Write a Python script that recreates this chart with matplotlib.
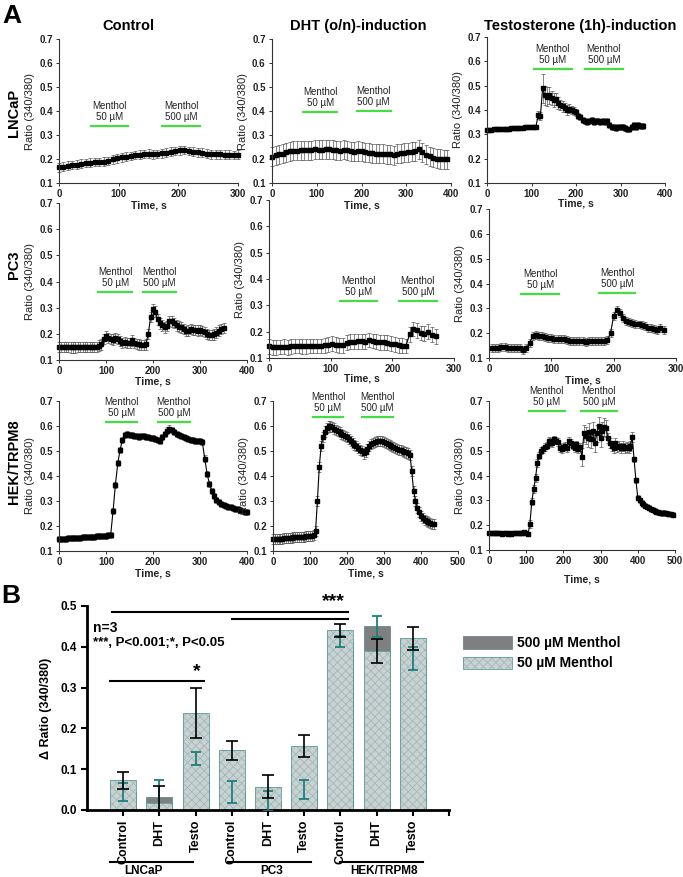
import numpy as np
import matplotlib
matplotlib.use('Agg')
import matplotlib.pyplot as plt
from matplotlib.patches import Rectangle

plt.rcParams['font.family'] = ['Liberation Sans', 'DejaVu Sans']
plt.rcParams['hatch.linewidth'] = 0.6

W, H = 683, 877

### panel A traces: start time, step (s), mean ratio, sem
lncap_ctrl_t = (0, 7.5)
lncap_ctrl_mean = [.165, .168, .172, .175, .177, .180, .183, .185, .187, .188, .189, .192, .198, .203,
                   .207, .210, .212, .216, .218, .221, .222, .220, .221, .224, .227, .231, .234, .236,
                   .237, .234, .230, .228, .227, .222, .220, .219, .220, .218, .218, .217, .218]
lncap_ctrl_sem = 0.018

lncap_dht_t = (0, 8)
lncap_dht_mean = [.210, .215, .220, .222, .228, .232, .234, .235, .236, .236, .236, .237, .240, .238,
                  .238, .240, .240, .238, .236, .235, .238, .236, .232, .230, .233, .232, .228, .226,
                  .224, .222, .222, .222, .220, .220, .215, .222, .224, .226, .228, .230, .232, .240,
                  .228, .218, .212, .205, .202, .200, .198, .198]
lncap_dht_sem = 0.04

lncap_testo_t = (0, 5)
lncap_testo_mean = [.318, .318, .319, .320, .320, .321, .321, .322, .322, .323, .323, .324, .325, .326,
                    .326, .327, .328, .329, .330, .330, .331, .332, .332, .380, .375, .490, .460, .455,
                    .460, .450, .440, .445, .430, .420, .415, .410, .400, .405, .400, .395, .390, .375,
                    .370, .360, .355, .350, .355, .360, .350, .355, .355, .350, .355, .350, .355, .340,
                    .330, .330, .325, .330, .330, .330, .325, .320, .320, .330, .340, .330, .340, .335,
                    .335]
lncap_testo_sem = [.006] * 23 + [.015, .015, .060, .040, .040, .035, .030, .028, .025, .025, .022,
                                 .022, .020, .020, .018, .018, .016, .015] + [.012] * 30

pc3_ctrl_t = (0, 5)
pc3_ctrl_mean = [.150, .150, .150, .150, .149, .148, .148, .148, .149, .149, .150, .150, .150, .150,
                 .150, .150, .150, .155, .160, .180, .192, .185, .180, .178, .185, .180, .172, .165,
                 .168, .165, .165, .175, .165, .162, .160, .158, .158, .160, .200, .265, .295, .285,
                 .255, .240, .232, .225, .230, .250, .248, .242, .232, .228, .225, .218, .210, .212,
                 .218, .215, .215, .212, .214, .210, .208, .200, .196, .196, .198, .205, .212, .218,
                 .222]
pc3_ctrl_sem = 0.02

pc3_dht_t = (0, 6)
pc3_dht_mean = [.145, .140, .140, .142, .143, .140, .144, .146, .146, .144, .145, .146, .146, .146,
                .146, .148, .150, .155, .150, .148, .148, .158, .162, .162, .163, .163, .162, .168,
                .165, .162, .160, .160, .158, .155, .152, .148, .147, .146, .190, .210, .205, .195,
                .192, .200, .188, .182]
pc3_dht_sem = 0.028

pc3_testo_t = (5, 5)
pc3_testo_mean = [.142, .142, .142, .143, .143, .142, .142, .142, .140, .140, .132, .140, .160, .188,
                  .192, .190, .188, .185, .182, .180, .178, .178, .178, .175, .172, .170, .170, .170,
                  .170, .168, .166, .168, .170, .170, .170, .170, .170, .172, .200, .270, .295, .280,
                  .260, .250, .245, .240, .238, .235, .232, .228, .222, .220, .215, .212, .220, .212]
pc3_testo_sem = 0.016

hek_ctrl_t = (0, 5)
hek_ctrl_mean = [.150, .150, .149, .150, .151, .151, .152, .153, .153, .154, .155, .155, .156, .157,
                 .158, .158, .159, .160, .160, .161, .162, .163, .165, .260, .365, .450, .505, .545,
                 .562, .570, .566, .562, .560, .560, .556, .558, .558, .556, .555, .552, .550, .548,
                 .544, .540, .555, .570, .582, .590, .585, .578, .568, .562, .558, .555, .550, .548,
                 .545, .543, .540, .540, .538, .535, .470, .410, .370, .340, .320, .305, .295, .290,
                 .285, .282, .278, .276, .273, .270, .268, .265, .262, .258, .255]
hek_ctrl_sem = 0.012

hek_dht_t = (0, 5)
hek_dht_mean = [.150, .148, .148, .149, .150, .150, .151, .152, .153, .153, .154, .155, .155, .156,
                .156, .157, .158, .158, .159, .160, .160, .162, .165, .180, .300, .435, .520, .555,
                .578, .592, .598, .598, .595, .590, .585, .580, .575, .570, .565, .560, .555, .548,
                .540, .533, .525, .518, .510, .503, .498, .490, .495, .508, .520, .528, .533, .536,
                .538, .540, .540, .538, .536, .532, .528, .524, .520, .515, .510, .507, .505, .502,
                .500, .497, .494, .490, .485, .420, .340, .300, .272, .255, .240, .232, .226, .220,
                .216, .213, .210, .208]
hek_dht_sem = 0.02

hek_testo_t = (0, 5)
hek_testo_mean = [.168, .168, .170, .168, .170, .168, .167, .166, .168, .167, .165, .168, .166, .167,
                  .168, .168, .170, .170, .168, .172, .168, .165, .205, .295, .345, .390, .450, .480,
                  .500, .505, .515, .520, .540, .535, .530, .545, .540, .535, .510, .505, .515, .520,
                  .510, .540, .530, .520, .510, .525, .505, .515, .475, .570, .560, .550, .575, .545,
                  .580, .530, .570, .600, .550, .580, .595, .590, .550, .530, .520, .510, .530, .515,
                  .520, .510, .520, .510, .515, .510, .520, .555, .465, .380, .310, .300, .290, .285,
                  .278, .275, .270, .265, .262, .258, .255, .252, .250, .248, .250, .248, .246, .245,
                  .245, .242]
hek_testo_sem = [.008] * 22 + [.015] * 28 + [.035] * 14 + [.02] * 14 + [.01] * 22

### menthol applications: (start s, end s, bar height)
lncap_ctrl_menthol = [(53, 115, .338), (173, 236, .338)]
lncap_dht_menthol = [(70, 146, .396), (189, 265, .40)]
lncap_testo_menthol = [(106, 190, .568), (220, 305, .568)]
pc3_ctrl_menthol = [(84, 155, .359), (178, 248, .359)]
pc3_dht_menthol = [(115, 175, .318), (211, 272, .318)]
pc3_testo_menthol = [(52, 112, .357), (177, 235, .36)]
hek_ctrl_menthol = [(99, 167, .615), (210, 279, .615)]
hek_dht_menthol = [(107, 190, .637), (241, 325, .637)]
hek_testo_menthol = [(108, 203, .658), (247, 344, .658)]

conc_labels = ['50 \u00b5M', '500 \u00b5M']
col_titles = ['Control', 'DHT (o/n)-induction', 'Testosterone (1h)-induction']
row_titles = ['LNCaP', 'PC3', 'HEK/TRPM8']

### panel B
cond_labels = ['Control', 'DHT', 'Testo'] * 3
group_labels = ['LNCaP', 'PC3', 'HEK/TRPM8']
val50 = [0.073, 0.016, 0.237, 0.146, 0.057, 0.156, 0.440, 0.390, 0.421]
err50 = [0.021, 0.044, 0.061, 0.024, 0.028, 0.027, 0.017, 0.029, 0.028]
val500 = [0.043, 0.031, 0.127, 0.044, 0.022, 0.050, 0.413, 0.450, 0.371]
err500 = [0.022, 0.043, 0.016, 0.028, 0.024, 0.024, 0.013, 0.026, 0.029]

fig = plt.figure(figsize=(W / 100, H / 100), dpi=100)


def px_axes(l, t, r, b):
    return fig.add_axes([l / W, 1 - b / H, (r - l) / W, (b - t) / H])


def fig_text(x, y, s, **kw):
    fig.text(x / W, 1 - y / H, s, **kw)


# (axes box in px, x max, time, mean, sem, menthol, 'Time, s' label y in px)
panels = [
    ((59, 39, 238, 183), 300, lncap_ctrl_t, lncap_ctrl_mean, lncap_ctrl_sem, lncap_ctrl_menthol, 206),
    ((272, 39, 451, 183), 400, lncap_dht_t, lncap_dht_mean, lncap_dht_sem, lncap_dht_menthol, 206),
    ((487, 37, 665, 183), 400, lncap_testo_t, lncap_testo_mean, lncap_testo_sem, lncap_testo_menthol, 203),
    ((59, 203, 247, 360), 400, pc3_ctrl_t, pc3_ctrl_mean, pc3_ctrl_sem, pc3_ctrl_menthol, 381),
    ((269, 200, 454, 358), 300, pc3_dht_t, pc3_dht_mean, pc3_dht_sem, pc3_dht_menthol, 378),
    ((489, 209, 676, 358), 300, pc3_testo_t, pc3_testo_mean, pc3_testo_sem, pc3_testo_menthol, 380),
    ((59, 401, 247, 551), 400, hek_ctrl_t, hek_ctrl_mean, hek_ctrl_sem, hek_ctrl_menthol, 574),
    ((273, 401, 458, 551), 500, hek_dht_t, hek_dht_mean, hek_dht_sem, hek_dht_menthol, 574),
    ((489, 401, 675, 550), 500, hek_testo_t, hek_testo_mean, hek_testo_sem, hek_testo_menthol, 580),
]

for box, xmax, (t0, dt), mean, sem, menthol, xlab_y in panels:
    ax = px_axes(*box)
    ax.patch.set_visible(False)
    t = t0 + dt * np.arange(len(mean))
    err = np.broadcast_to(np.asarray(sem, dtype=float), (len(mean),))
    ax.errorbar(t, mean, yerr=err, fmt='-s', color='k', ms=2.4, lw=0.8,
                ecolor='#555555', elinewidth=0.5, capsize=1.4, capthick=0.5, clip_on=False)
    for (x0, x1, y), conc in zip(menthol, conc_labels):
        ax.plot([x0, x1], [y, y], color='#44dd44', lw=1.6, clip_on=False)
        xm = (x0 + x1) / 2
        ax.annotate(conc, (xm, y), xytext=(0, 9), textcoords='offset pixels',
                    ha='center', va='center', fontsize=7, color='#222222', annotation_clip=False)
        ax.annotate('Menthol', (xm, y), xytext=(0, 20), textcoords='offset pixels',
                    ha='center', va='center', fontsize=7, color='#222222', annotation_clip=False)
    ax.set_xlim(0, xmax)
    ax.set_ylim(0.1, 0.7)
    ax.set_xticks(np.arange(0, xmax + 1, 100))
    ax.set_yticks(np.arange(0.1, 0.71, 0.1))
    ax.set_yticklabels([f'{v:.1f}' for v in np.arange(0.1, 0.71, 0.1)])
    for s in ['top', 'right']:
        ax.spines[s].set_visible(False)
    for s in ['left', 'bottom']:
        ax.spines[s].set_color('#333333')
        ax.spines[s].set_linewidth(0.8)
    ax.tick_params(direction='out', length=2.5, width=0.7, color='#333333', pad=2,
                   labelsize=7, labelcolor='#222222')
    for lab in ax.get_xticklabels() + ax.get_yticklabels():
        lab.set_fontweight('bold')
    ax.set_xlabel('Time, s', fontsize=7.5, fontweight='bold', color='#222222')
    ax.xaxis.label.set_va('center')
    ax.xaxis.set_label_coords(0.5, -(xlab_y - box[3]) / (box[3] - box[1]))
    ax.set_ylabel('Ratio (340/380)', fontsize=8, color='#222222', labelpad=3)

for x, s in zip([128, 358, 580], col_titles):
    fig_text(x, 26, s, ha='center', va='center', fontsize=10.5, fontweight='bold')
for y, s in zip([113, 265, 462], row_titles):
    fig_text(14, y, s, ha='center', va='center', rotation=90, fontsize=10.5, fontweight='bold')
fig_text(12, 16, 'A', ha='center', va='center', fontsize=19, fontweight='bold')
fig_text(11, 596, 'B', ha='center', va='center', fontsize=19, fontweight='bold')

### panel B bar chart
axb = px_axes(87, 606, 449, 810)
pos = np.arange(1, len(val50) + 1)
bw = 0.72
axb.bar(pos, val500, width=bw, color='#7f7f7f', edgecolor='#5f8f8f', lw=0.6, zorder=1)
axb.bar(pos, val50, width=bw, color='#cbd1d1', edgecolor='#9dbaba', hatch='xxxx', lw=0, zorder=2)
axb.bar(pos, val50, width=bw, fill=False, edgecolor='#5a9e9e', lw=0.6, zorder=2.5)
axb.errorbar(pos, val500, yerr=err500, fmt='none', ecolor='#1f7f7f', elinewidth=1.3,
             capsize=3.5, capthick=1.3, zorder=3)
axb.errorbar(pos, val50, yerr=err50, fmt='none', ecolor='k', elinewidth=1.2,
             capsize=4, capthick=1.2, zorder=4)

axb.set_xlim(0, 10)
axb.set_ylim(0, 0.5)
axb.set_xticks(list(pos) + [10])
axb.set_xticklabels(cond_labels + [''], rotation=90, fontsize=9, fontweight='bold')
axb.set_yticks(np.arange(0, 0.51, 0.1))
axb.set_yticklabels([f'{v:.1f}' for v in np.arange(0, 0.51, 0.1)], fontsize=8.5, fontweight='bold')
for s in ['top', 'right']:
    axb.spines[s].set_visible(False)
for s in ['left', 'bottom']:
    axb.spines[s].set_linewidth(2)
axb.tick_params(direction='out', length=4, width=1.5, pad=3)
axb.set_ylabel('\u0394 Ratio (340/380)', fontsize=9, fontweight='bold', labelpad=6)

# group lines under the tick labels
tr = axb.get_xaxis_transform()
for (x0, x1, xt), s in zip([(0.635, 2.93, 1.56), (3.9, 6.19, 5.1), (6.99, 9.28, 8.2)], group_labels):
    axb.plot([x0, x1], [-0.253, -0.253], color='k', lw=1.5, transform=tr, clip_on=False)
    axb.text(xt, -0.297, s, transform=tr, ha='center', va='center', fontsize=8.5, fontweight='bold')

# significance marks
axb.plot([0.635, 3.23], [0.315, 0.315], color='k', lw=1.5)
axb.text(3.04, 0.318, '*', ha='center', va='bottom', fontsize=14, fontweight='bold')
axb.plot([0.69, 7.21], [0.485, 0.485], color='k', lw=1.5, clip_on=False)
axb.plot([4.0, 7.21], [0.469, 0.469], color='k', lw=1.5, clip_on=False)
axb.text(6.82, 0.49, '***', ha='center', va='bottom', fontsize=14, fontweight='bold')
axb.text(0.17, 0.447, 'n=3', ha='left', va='center', fontsize=10, fontweight='bold')
axb.text(0.17, 0.41, '***, P<0.001;*, P<0.05', ha='left', va='center', fontsize=9.5, fontweight='bold')

# legend
lax = px_axes(455, 628, 683, 676)
lax.set_xlim(455, 683)
lax.set_ylim(676, 628)
lax.axis('off')
lax.add_patch(Rectangle((463, 636), 49, 13, facecolor='#7f7f7f', edgecolor='#5f8f8f', lw=0.6))
lax.add_patch(Rectangle((463, 657), 49, 12, facecolor='#cbd1d1', edgecolor='#9dbaba', hatch='xxxx', lw=0))
lax.add_patch(Rectangle((463, 657), 49, 12, fill=False, edgecolor='#5a9e9e', lw=0.6))
lax.text(517, 642.5, '500 \u00b5M Menthol', ha='left', va='center', fontsize=10, fontweight='bold')
lax.text(517, 663, '50 \u00b5M Menthol', ha='left', va='center', fontsize=10, fontweight='bold')

fig.savefig('out.png', dpi=100)
